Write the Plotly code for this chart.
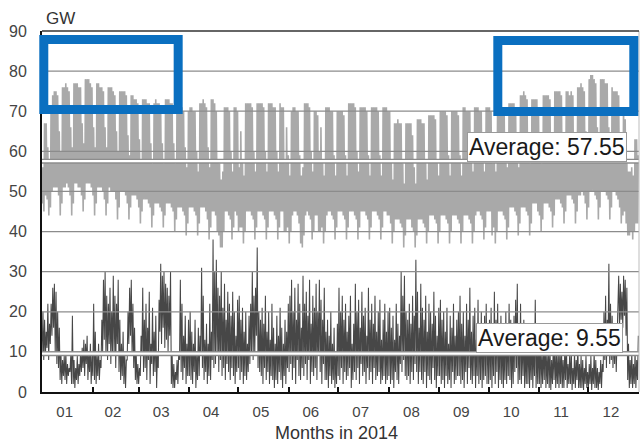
import plotly.graph_objects as go

# ---------------- data ----------------
month_labels = ["01", "02", "03", "04", "05", "06", "07", "08", "09", "10", "11", "12"]
month_days = [31, 28, 31, 30, 31, 30, 31, 31, 30, 31, 30, 31]

# Load: daily peak (GW), one list per month
load_peak = [
    [56,67,67,61,57, 71,74,75,75,74,65,60, 76,76,77,76,75,66,61, 77,77,77,76,76,67,62, 78,78,78,77,76],
    [66,61, 77,77,76,76,75,66,61, 76,76,76,75,74,65,60, 75,75,75,75,74,64,59, 74,74,73,73,72],
    [63,58, 73,73,73,72,72,62,57, 72,73,72,72,71,62,57, 73,73,73,72,72,62,57, 72,71,72,71,70,61,56, 70],
    [71,71,70,70,60,55, 72,72,73,72,71,61,56, 73,73,72,70,58,57,53, 55,71,71,71,70,60,55, 71,71,70],
    [56,65,58,54, 72,72,72,72,71,60,55, 72,72,72,72,71,60,55, 72,72,72,71,71,60,55, 72,71,71,57,66,59],
    [54, 70,71,71,70,70,59,54, 56,72,72,72,71,60,55, 70,70,69,60,66,58,54, 71,71,71,70,70,59,54, 70],
    [70,70,70,69,59,54, 72,72,72,72,71,60,55, 71,71,71,71,70,59,54, 71,71,71,71,70,59,54, 71,71,71,70],
    [70,58,53, 67,67,68,67,67,57,52, 67,67,67,67,64,56,52, 68,68,68,67,67,58,53, 69,69,69,69,68,58,54],
    [70,70,70,70,69,59,54, 70,70,70,70,69,59,54, 71,71,70,70,70,59,55, 71,71,71,70,70,60,55, 71,71],
    [71,70,57,59,55, 72,72,72,71,71,61,56, 72,72,72,72,71,61,56, 74,74,75,74,73,62,57, 73,73,73,73,70],
    [61,57, 74,74,74,74,73,63,58, 75,75,75,75,74,64,59, 75,75,74,75,74,64,59, 76,76,77,76,75,65,60],
    [78,79,79,78,77,66,61, 78,78,78,77,77,66,61, 76,75,75,75,74,64,59, 71,68,58,55,55,56,54, 63,63,59],
]
# Load: daily minimum (GW)
load_low = [
    [47,45,49,48,44, 46,50,51,51,51,49,44, 47,51,51,52,51,49,44, 47,52,52,51,51,49,45, 48,52,52,52,51],
    [49,44, 47,51,51,51,50,48,44, 47,51,50,50,50,48,43, 46,50,50,50,49,47,43, 46,49,49,49,48],
    [46,42, 45,48,48,48,47,46,41, 44,47,47,47,46,45,41, 44,47,47,47,46,45,40, 43,46,46,46,45,44,39, 42],
    [46,46,46,45,44,39, 42,46,46,46,45,43,38, 41,45,45,44,40,39,36, 36,40,45,45,44,43,38, 41,45,44],
    [40,41,41,37, 40,45,45,45,44,43,38, 41,45,45,45,44,43,38, 41,45,45,45,44,43,38, 41,45,45,40,40,41],
    [37, 40,44,45,45,44,42,37, 36,39,44,45,44,43,38, 40,44,44,40,40,41,37, 40,44,45,45,44,43,38, 41],
    [45,45,45,44,43,38, 41,45,45,45,44,43,38, 41,45,45,45,44,43,38, 41,45,45,45,44,43,38, 41,45,45,44],
    [44,42,37, 40,43,43,43,42,41,36, 39,43,43,43,41,40,36, 39,43,43,43,42,41,37, 40,44,44,44,43,42,37],
    [40,44,44,44,43,42,37, 40,44,44,44,43,42,37, 40,44,44,44,43,42,37, 40,44,45,45,44,43,38, 41,45],
    [45,45,39,41,37, 40,45,45,45,44,43,38, 41,46,46,46,45,44,39, 42,46,46,46,45,44,39, 42,47,47,47,45],
    [44,40, 43,47,47,47,46,45,41, 44,48,48,48,47,46,42, 45,49,49,49,48,47,42, 45,49,49,50,49,47,43],
    [46,50,50,50,49,48,43, 46,50,50,50,49,48,43, 46,50,50,49,48,46,42, 44,45,42,39,39,40,38, 40,42,42],
]
# Wind: daily maximum (GW)
wind_hi = [
    [20,18,15,22,17, 22,26,27,25,20,16, 10,8,9, 10,7,6,9,19, 8,6,9,7,10, 11,13,12,14,10,12,9],
    [22,15, 9,12,8, 18,28,30,24, 22,26,20,29,24,22,28,18, 12,15,10,8, 20,26,28,22,16, 10,7],
    [6, 14,26,18, 22,16,25,12,21,15,19,10,23, 32,29,30,27,26,24,30, 9,7,5,8,10, 28,22,14,19,12, 18],
    [20,15,12,18,9,16,14, 31,24,13,17, 12,22,15,38,30, 33,26,24,30,21,27,18,25, 22,19,25,20,14,23],
    [24,18,21,15,20,12,19, 22,30,24,26,36,20,18, 21,17,24,15,20,13,22,16,12, 19,14,21,16,12,18,15,22],
    [24,28,20,26,18,27,22,16, 29,22,25,19,28,17,24,21, 27,20,28,23,18,26,15, 18,14,20,12,16,10,17],
    [26,20,24,18,22,15,19,24,12,17, 27,20,23,16,25,19,21,14,26,18,22,17,24,15,20,23,13, 18,22,15,20],
    [21,16,19,13,22,17,14, 30,24,29,20,18, 22,17,24,19,33,25,16, 27,21,18,24,15,22,20,17,25,19,14,21],
    [23,18,20,15,21,12,19,16,22,14,18,20, 24,17,20,14,22,18,26,15,19,21,13, 23,17,20,14,19,22,16],
    [18,21,15, 25,18,22,14,19,16,12,20, 16,22,18,14,19,23,27,15, 22,15,18,12,16, 15,12,16,13,23,11,14],
    [14,10,12,15,9,13,11,8,12,14,9,11,10, 12,8,10,13,7,9,11,6,10,8,12,7,9, 8,6,9,5],
    [7,9,6,10,8, 6,5,8,7, 20,24,18,32,22, 19,15,17,14, 29,27,25,29,28,26, 12,8,10,7, 10,8,14],
]
# Wind: daily minimum (GW)
wind_lo = [
    [10,8,9,11,8, 12,14,16,10,7,6, 3,2,4, 3,2,4,5,2, 2,1,3,2,4, 5,6,4,7,3,5,2],
    [4,3, 2,4,3, 6,10,13,9, 8,12,7,10,9,6,12,5, 3,4,2,1, 8,12,14,9,6, 3,2],
    [2, 4,9,5, 6,3,8,2,7,4,5,1,6, 15,12,16,11,13,10,14, 2,1,1,3,2, 8,5,3,6,2, 4],
    [4,3,2,5,1,3,4, 9,6,3,5, 2,4,3,8,6, 7,9,5,8,4,6,3,7, 5,3,6,4,2,5],
    [6,3,5,2,4,3,5, 7,10,8,9,14,6,5, 4,2,6,3,5,2,4,3,1, 3,2,5,3,1,4,2,6],
    [5,7,3,6,2,8,4,3, 6,4,7,3,8,2,5,4, 6,3,9,5,2,7,3, 3,1,4,2,3,1,2],
    [4,3,6,2,5,3,4,6,1,3, 5,3,6,2,7,4,5,2,6,3,5,2,6,3,4,5,2, 3,4,2,3],
    [4,2,3,1,5,3,2, 7,5,8,4,3, 4,2,5,3,7,5,2, 5,3,2,5,1,4,3,2,6,3,1,4],
    [4,2,3,1,4,2,3,1,5,2,3,4, 4,2,3,1,5,2,6,3,2,4,1, 4,2,3,1,3,4,2],
    [2,3,1, 4,2,5,1,3,2,1,3, 2,4,3,1,2,5,6,2, 3,2,4,1,2, 2,1,3,1,4,1,2],
    [2,1,2,3,1,2,1,0.5,2,3,1,2,1, 2,1,1,3,1,2,2,0.5,2,1,3,1,1, 1,0.5,2,1],
    [1,2,0.5,2,1, 1,0.5,2,1, 5,8,6,12,7, 8,6,7,5, 17,15,18,16,19,14, 3,1,2,1, 2,1,3],
]
load_average = 57.55
wind_average = 9.55
y_ticks = [0, 10, 20, 30, 40, 50, 60, 70, 80, 90]
grid_values = [10, 20, 30, 40, 50, 60, 70, 80]

for m in range(12):
    for arr in (load_peak, load_low, wind_hi, wind_lo):
        assert len(arr[m]) == month_days[m], (m, len(arr[m]))

# ---------------- build hourly-axis traces ----------------
HOURS = 24
load_x, load_y, wind_x, wind_y = [], [], [], []
day = 0
for m in range(12):
    for i in range(month_days[m]):
        t = day * HOURS
        load_x += [t + 4, t + 13]
        load_y += [load_low[m][i], load_peak[m][i]]
        wind_x += [t + 2, t + 14]
        wind_y += [wind_lo[m][i], wind_hi[m][i]]
        day += 1

month_start = [0]
for n in month_days:
    month_start.append(month_start[-1] + n * HOURS)
month_mid = [(month_start[i] + month_start[i + 1]) / 2 - 40 for i in range(12)]
x_end = month_start[-1]

fig = go.Figure()
fig.add_trace(go.Scatter(x=load_x, y=load_y, mode="lines",
                         line=dict(color="#a9a9a9", width=1.6), hoverinfo="skip"))
fig.add_trace(go.Scatter(x=wind_x, y=wind_y, mode="lines",
                         line=dict(color="#474747", width=1.05), hoverinfo="skip"))

shapes = []
for g in grid_values:
    shapes.append(dict(type="line", xref="paper", x0=0, x1=1, yref="y", y0=g, y1=g,
                       line=dict(color="#8c8c8c", width=1.2), layer="above"))
for avg in (load_average, wind_average):
    shapes.append(dict(type="line", xref="paper", x0=0, x1=1, yref="y", y0=avg, y1=avg,
                       line=dict(color="#8c8c8c", width=5), layer="above"))
    shapes.append(dict(type="line", xref="paper", x0=0, x1=1, yref="y", y0=avg, y1=avg,
                       line=dict(color="#ffffff", width=2.2), layer="above"))
# right edge
shapes.append(dict(type="line", xref="paper", x0=1, x1=1, yref="paper", y0=0, y1=1,
                   line=dict(color="#bdbdbd", width=1), layer="above"))
# top border
shapes.append(dict(type="line", xref="paper", x0=0, x1=1, yref="paper", y0=1, y1=1,
                   line=dict(color="#333333", width=1.5), layer="above"))
# blue highlight rectangles
blue = "#0a6fc0"
shapes.append(dict(type="rect", xref="paper", yref="paper", x0=0.003, x1=0.2281,
                   y0=0.7825, y1=0.9765, line=dict(color=blue, width=9), layer="above"))
shapes.append(dict(type="rect", xref="paper", yref="paper", x0=0.7635, x1=0.9913,
                   y0=0.777, y1=0.9737, line=dict(color=blue, width=9), layer="above"))

font_family = "Liberation Sans, Arial, Helvetica, sans-serif"
annotations = [
    dict(text="GW", xref="paper", yref="paper", x=0.004, y=1.034, xanchor="left",
         yanchor="middle", showarrow=False, font=dict(size=17, color="#333333", family=font_family)),
    dict(text="Months in 2014", xref="paper", yref="paper", x=0.494, y=-0.113,
         xanchor="center", yanchor="middle", showarrow=False,
         font=dict(size=18, color="#333333", family=font_family)),
    dict(text="Average: %.2f" % load_average, x=7410, y=61.2, xref="x", yref="y",
         showarrow=False, bgcolor="white", bordercolor="#9a9a9a", borderwidth=1, borderpad=1,
         font=dict(size=23, color="#1a1a1a", family=font_family)),
    dict(text="Average: %.2f" % wind_average, x=7447, y=13.46, xref="x", yref="y",
         showarrow=False, bgcolor="white", bordercolor="#9a9a9a", borderwidth=1, borderpad=1,
         font=dict(size=23, color="#1a1a1a", family=font_family)),
]

fig.update_layout(
    width=641, height=443,
    margin=dict(l=42, r=2, t=31, b=51, autoexpand=False),
    paper_bgcolor="white", plot_bgcolor="white",
    showlegend=False,
    hovermode=False,
    shapes=shapes,
    annotations=annotations,
    font=dict(family=font_family),
)
fig.update_xaxes(
    range=[0, x_end], tickmode="array", tickvals=month_mid, ticktext=month_labels,
    ticks="", showgrid=False, zeroline=False,
    showline=True, linecolor="#111111", linewidth=2, mirror=False,
    tickfont=dict(size=15, color="#444444"), ticklabelstandoff=5,
    minor=dict(tickmode="array", tickvals=month_start[1:-1], ticks="inside",
               ticklen=5, tickwidth=2, tickcolor="#111111", showgrid=False),
)
fig.update_yaxes(
    range=[0, 90], tickmode="array", tickvals=y_ticks,
    ticks="", showgrid=False, zeroline=False,
    showline=True, linecolor="#111111", linewidth=2,
    tickfont=dict(size=16, color="#444444"), ticklabelstandoff=10,
)

fig.write_html(
    "out.html",
    config={"displayModeBar": False, "staticPlot": True},
    post_script="document.body.style.margin='0';document.body.style.padding='0';"
                "document.documentElement.style.overflow='hidden';",
)
